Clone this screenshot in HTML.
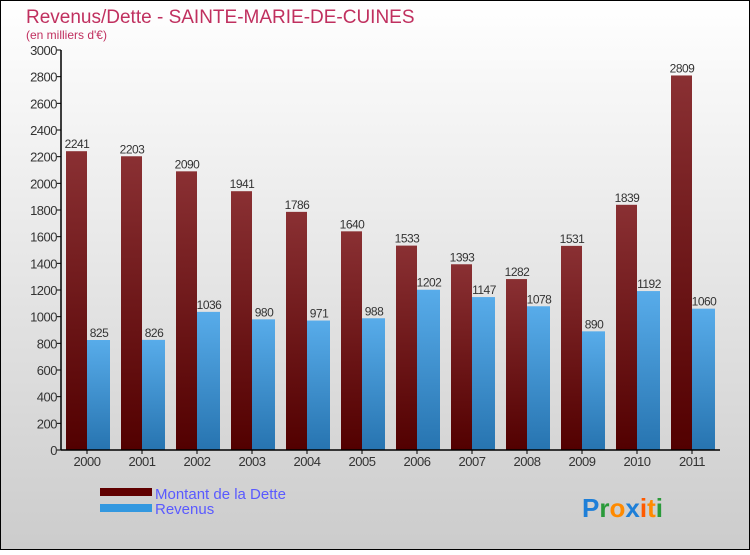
<!DOCTYPE html>
<html><head><meta charset="utf-8"><style>
body{margin:0;width:750px;height:550px;overflow:hidden;font-family:"Liberation Sans",sans-serif}
</style></head><body>
<svg width="750" height="550" xmlns="http://www.w3.org/2000/svg">
<defs>
<linearGradient id="bg" x1="0" y1="0" x2="0" y2="1"><stop offset="0" stop-color="#ffffff"/><stop offset="1" stop-color="#cccccc"/></linearGradient>
<linearGradient id="gd" x1="0" y1="0" x2="0" y2="1"><stop offset="0" stop-color="#8a3033"/><stop offset="1" stop-color="#520000"/></linearGradient>
<linearGradient id="gr" x1="0" y1="0" x2="0" y2="1"><stop offset="0" stop-color="#58acea"/><stop offset="1" stop-color="#2774b0"/></linearGradient>
</defs>
<rect x="0.5" y="0.5" width="749" height="549" fill="url(#bg)" stroke="#000"/>
<text x="26" y="23" font-size="19" fill="#c0305f">Revenus/Dette - SAINTE-MARIE-DE-CUINES</text>
<text x="26" y="39" font-size="12" fill="#c0305f">(en milliers d'€)</text>
<g id="plot"></g>
<rect x="100" y="488" width="52" height="8" fill="#600000"/>
<rect x="100" y="504" width="52" height="8" fill="#3398e0"/>
<text x="155" y="499" font-size="15" fill="#5a5aff">Montant de la Dette</text>
<text x="155" y="514" font-size="15" fill="#5a5aff">Revenus</text>
<text x="582" y="517" font-size="26" font-weight="bold"><tspan fill="#1e7fd8">P</tspan><tspan fill="#2a9a3a">r</tspan><tspan fill="#ff8a00">o</tspan><tspan fill="#1e7fd8">x</tspan><tspan fill="#ff5a00">i</tspan><tspan fill="#ff8a00">t</tspan><tspan fill="#2a9a3a">i</tspan></text>
</svg>
<script>
const categories=["2000","2001","2002","2003","2004","2005","2006","2007","2008","2009","2010","2011"];
const dette=[2241,2203,2090,1941,1786,1640,1533,1393,1282,1531,1839,2809];
const revenus=[825,826,1036,980,971,988,1202,1147,1078,890,1192,1060];
const yTicks=[0,200,400,600,800,1000,1200,1400,1600,1800,2000,2200,2400,2600,2800,3000];
const NS="http://www.w3.org/2000/svg";
const g=document.getElementById('plot');
const x0=61,x1=720,y0=450,yTop=50,maxV=3000,step=55;
const y=v=>y0-(v/maxV)*(y0-yTop);
const cx=i=>x0+26+i*step;
function el(t,a,txt){const e=document.createElementNS(NS,t);for(const k in a)e.setAttribute(k,a[k]);if(txt!=null)e.textContent=txt;g.appendChild(e);return e;}
yTicks.forEach(v=>{
 const t=el('line',{x1:x0-4,x2:x0,y1:y(v),y2:y(v),stroke:'#000'});
 
 
 const l=el('text',{x:x0-4,y:y(v)+5,'font-size':13,'text-anchor':'end',fill:'#333','letter-spacing':'-0.5'},v);
 
 
});
categories.forEach((c,i)=>{
 const c0=cx(i);
 const bd=el('rect',{x:c0-21,y:y(dette[i]),width:21,height:y0-y(dette[i]),fill:'url(#gd)'});
 
 
 const br=el('rect',{x:c0,y:y(revenus[i]),width:23,height:y0-y(revenus[i]),fill:'url(#gr)'});
 
 
 const ld=el('text',{x:c0-10,y:y(dette[i])-3,'font-size':12,'text-anchor':'middle',fill:'#333','letter-spacing':'-0.5'},dette[i]);
 
 
 const lr=el('text',{x:c0+12,y:y(revenus[i])-3,'font-size':12,'text-anchor':'middle',fill:'#333','letter-spacing':'-0.5'},revenus[i]);
 
 
 const tk=el('line',{x1:c0,x2:c0,y1:y0,y2:y0+4,stroke:'#000'});
 
 
 const xl=el('text',{x:c0,y:y0+16,'font-size':13,'text-anchor':'middle',fill:'#333','letter-spacing':'-0.5'},c);
 
 
});
const ya=el('line',{x1:x0,x2:x0,y1:yTop,y2:y0,stroke:'#000','stroke-width':1.5});


const xa=el('line',{x1:x0,x2:x1,y1:y0,y2:y0,stroke:'#000','stroke-width':1.5});


</script>
</body></html>
